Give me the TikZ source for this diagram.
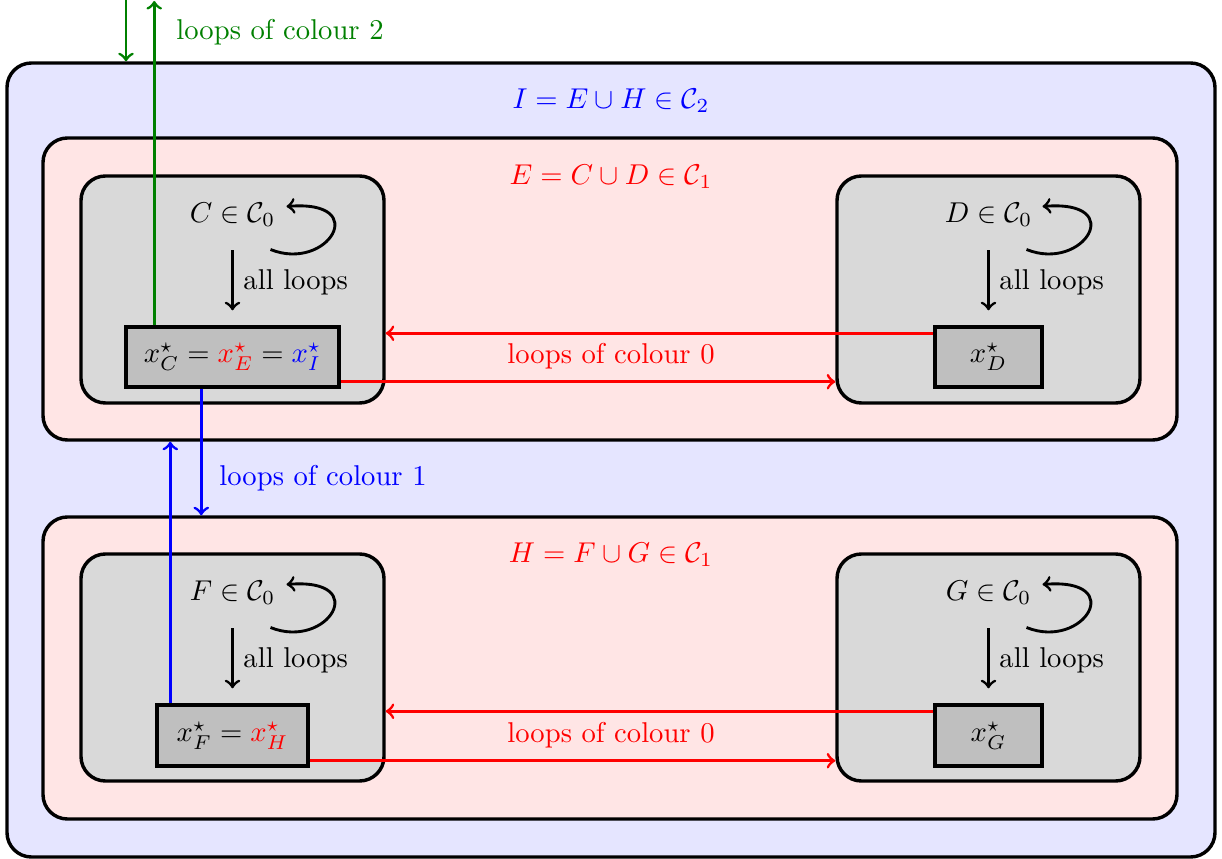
\documentclass[tikz,border=0pt]{standalone}
\usetikzlibrary{calc}
\def\pxu{0.012275cm}
\begin{document}
\begin{tikzpicture}[x=\pxu, y=-\pxu,
  bigbox/.style={draw, line width=1.2pt, rounded corners=0.3cm, inner sep=0pt},
  ptbox/.style={draw, line width=1.2pt, fill=gray!50, inner sep=0pt, minimum height=60*\pxu},
  arr/.style={->, line width=1pt},
  lbl/.style={inner sep=0pt}]
\useasboundingbox (0,0) rectangle (1222,859);
% outer box
\node[bigbox, fill=blue!10, minimum width=1208*\pxu, minimum height=794*\pxu] (I) at (611,460) {};
\node[lbl, text=blue] (It) at (611,101) {$I = E \cup H \in \mathcal{C}_2$};
% E and H
\node[bigbox, fill=red!10, minimum width=1134*\pxu, minimum height=302*\pxu] (E) at (610,289) {};
\node[lbl, text=red] (Et) at (611,177) {$E = C \cup D \in \mathcal{C}_1$};
\node[bigbox, fill=red!10, minimum width=1134*\pxu, minimum height=302*\pxu] (H) at (610,668) {};
\node[lbl, text=red] (Ht) at (611,555) {$H = F \cup G \in \mathcal{C}_1$};
% C D F G
\foreach \n/\cx/\cy in {C/232.5/289.5, D/988.5/289.5, F/232.5/667.5, G/988.5/667.5}{
  \node[bigbox, fill=gray!30, minimum width=303*\pxu, minimum height=227*\pxu] (\n) at (\cx,\cy) {};
  \node[lbl] (\n t) at (\cx,\cy-75) {$\n \in \mathcal{C}_0$};
}
% point boxes
\node[ptbox, minimum width=213*\pxu] (xC) at (232.5,357) {$x^\star_C = {\color{red}x^\star_E} = {\color{blue}x^\star_I}$};
\node[ptbox, minimum width=107*\pxu] (xD) at (988.5,357) {$x^\star_D$};
\node[ptbox, minimum width=151*\pxu, minimum height=61*\pxu] (xF) at (232.5,735.5) {$x^\star_F = {\color{red}x^\star_H}$};
\node[ptbox, minimum width=107*\pxu, minimum height=61*\pxu] (xG) at (988.5,735.5) {$x^\star_G$};
% loops and all loops
\foreach \n/\x in {C/xC, D/xD, F/xF, G/xG}{
  \draw[arr] ([shift={(38,35)}]\n t.center) .. controls ([shift={(95,58)}]\n t.center) and ([shift={(140,-15)}]\n t.center) .. ([shift={(54,-8)}]\n t.center);
  \draw[arr] ([yshift=-36*\pxu]\n t.center) -- ([yshift=15*\pxu]\x.north) node[midway, right, yshift=-2*\pxu] {all loops};
}
% red arrows
\draw[arr, red] ([yshift=-8*\pxu]xD.north west) coordinate (r1) -- (r1 -| C.east);
\draw[arr, red] ([yshift=7*\pxu]xC.south east) coordinate (r2) -- (r2 -| D.west);
\node[lbl, text=red] (r0) at (611,356) {loops of colour 0};
\draw[arr, red] ([yshift=-8*\pxu]xG.north west) coordinate (r3) -- (r3 -| F.east);
\draw[arr, red] ([yshift=7*\pxu]xF.south east) coordinate (r4) -- (r4 -| G.west);
\node[lbl, text=red] (r00) at (611,735) {loops of colour 0};
% blue arrows
\draw[arr, blue] ([xshift=77*\pxu]xC.south west) coordinate (b1) -- (b1 |- H.north);
\draw[arr, blue] ([xshift=15*\pxu]xF.north west) coordinate (b2) -- (b2 |- E.south);
\node[lbl, text=blue] (bl) at (323,478) {loops of colour 1};
% green arrows
\coordinate (gt) at (0,1);
\coordinate (gs) at (126,0);
\draw[arr, green!50!black] ([xshift=30*\pxu]xC.north west) coordinate (g1) -- (g1 |- gt);
\draw[arr, green!50!black] (gs) -- (gs |- I.north);
\node[lbl, text=green!50!black] (gl) at (280,32) {loops of colour 2};
\end{tikzpicture}
\end{document}
